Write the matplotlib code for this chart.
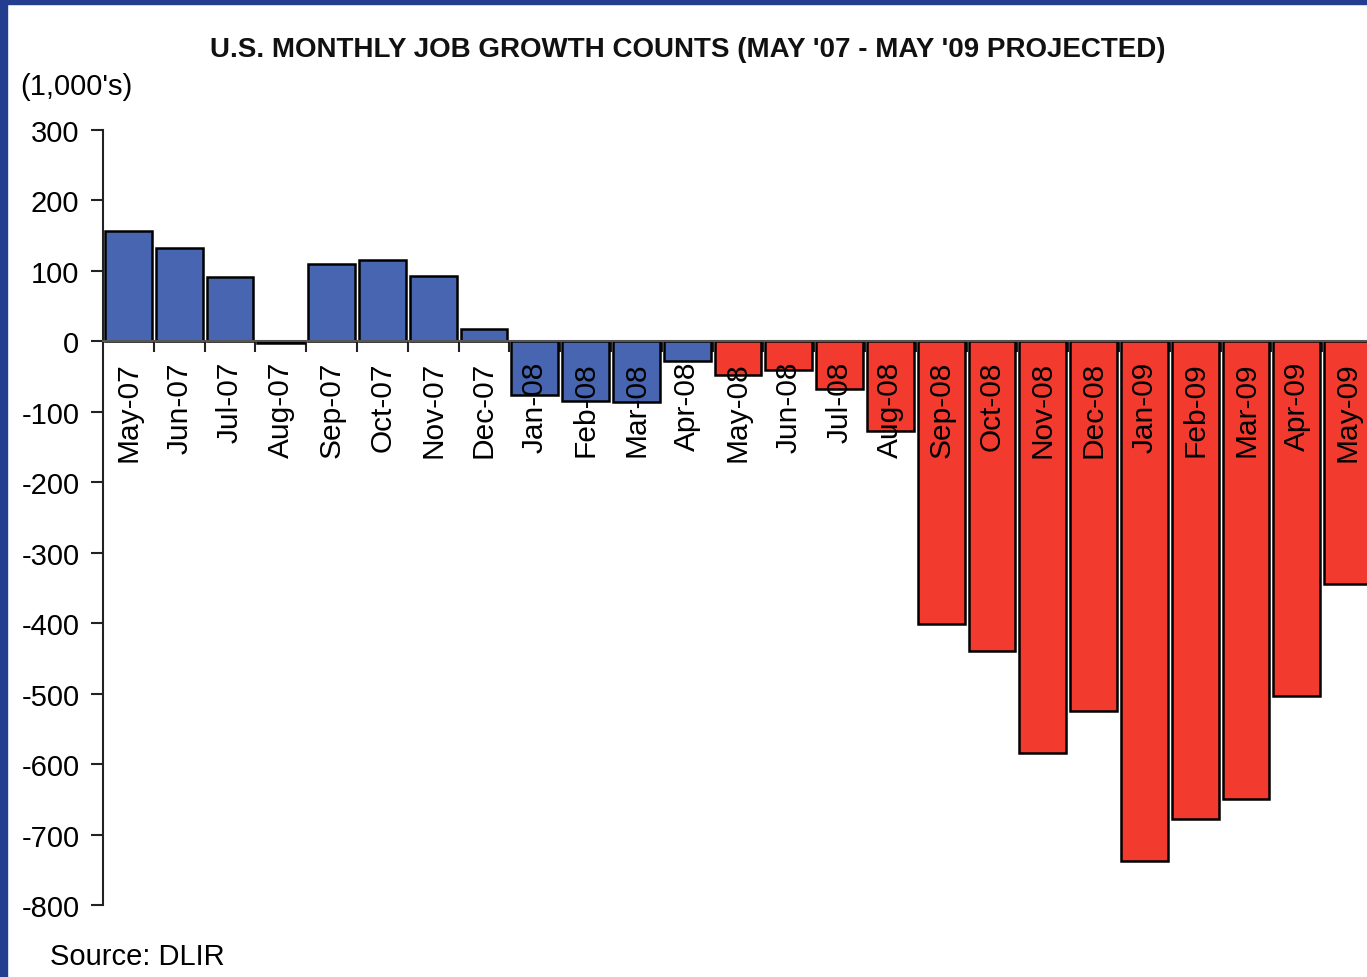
import matplotlib
matplotlib.use("Agg")
import matplotlib.pyplot as plt
from matplotlib.patches import Rectangle

plt.rcParams["font.family"] = ["Liberation Sans", "DejaVu Sans"]

MONTHS = [
	"May-07", "Jun-07", "Jul-07", "Aug-07", "Sep-07", "Oct-07", "Nov-07", "Dec-07",
	"Jan-08", "Feb-08", "Mar-08", "Apr-08", "May-08", "Jun-08", "Jul-08", "Aug-08",
	"Sep-08", "Oct-08", "Nov-08", "Dec-08", "Jan-09", "Feb-09", "Mar-09", "Apr-09",
	"May-09",
]
JOBS = [
	157, 132, 91, -3, 110, 116, 93, 18,
	-76, -84, -86, -28, -48, -41, -67, -127,
	-401, -439, -584, -524, -738, -678, -650, -504,
	-344,
]
# first 12 months are actuals (blue), the rest projected (red)
N_ACTUAL = 12
Y_TICKS = [300, 200, 100, 0, -100, -200, -300, -400, -500, -600, -700, -800]

BLUE = "#4765b0"
RED = "#f23a2e"
BORDER = "#233e8e"

fig = plt.figure(figsize=(13.67, 9.78), dpi=100)
fig.patch.set_facecolor("white")

# dark blue frame on the left and top of the slide
fig.patches.append(Rectangle((0, 0), 7 / 1367, 1, transform=fig.transFigure,
	color=BORDER, zorder=0))
fig.patches.append(Rectangle((0, 1 - 5 / 978), 1, 5 / 978, transform=fig.transFigure,
	color=BORDER, zorder=0))

ax = fig.add_axes([103 / 1367, 72 / 978, 1270 / 1367, 775 / 978])

x = list(range(len(MONTHS)))
colors = [BLUE if i < N_ACTUAL else RED for i in x]
ax.bar(x, JOBS, width=0.92, color=colors, edgecolor="black", linewidth=1.8, zorder=2)

ax.set_xlim(-0.5, len(MONTHS) - 0.5)
ax.set_ylim(-800, 300)
ax.set_yticks(Y_TICKS)
ax.set_yticklabels([str(v) for v in Y_TICKS], fontsize=21)

ax.set_xticks([i + 0.5 for i in x[:-1]])
ax.set_xticklabels([])
ax.tick_params(axis="x", direction="out", length=8, width=1.5, color="#222222")
ax.tick_params(axis="y", direction="out", length=9, width=1.5, color="#222222", pad=8)

for side in ("top", "right"):
	ax.spines[side].set_visible(False)
ax.spines["bottom"].set_position(("data", 0))
ax.spines["bottom"].set_zorder(3)
ax.spines["left"].set_linewidth(1.5)
ax.spines["bottom"].set_linewidth(1.5)
ax.spines["left"].set_color("#222222")
ax.spines["bottom"].set_color("#555555")

for i, label in enumerate(MONTHS):
	ax.text(i, -28, label, rotation=90, ha="center", va="top", fontsize=21.5, zorder=4)

fig.text(688 / 1367, 1 - 50 / 978, "U.S. MONTHLY JOB GROWTH COUNTS (MAY '07 - MAY '09 PROJECTED)",
	ha="center", va="center", fontsize=20, fontweight="bold", color="#111111")
fig.text(20 / 1367, 1 - 87 / 978, "(1,000's)", ha="left", va="center", fontsize=21)
fig.text(50 / 1367, 1 - 957 / 978, "Source: DLIR", ha="left", va="center", fontsize=21)

fig.savefig("out.png", dpi=100)
